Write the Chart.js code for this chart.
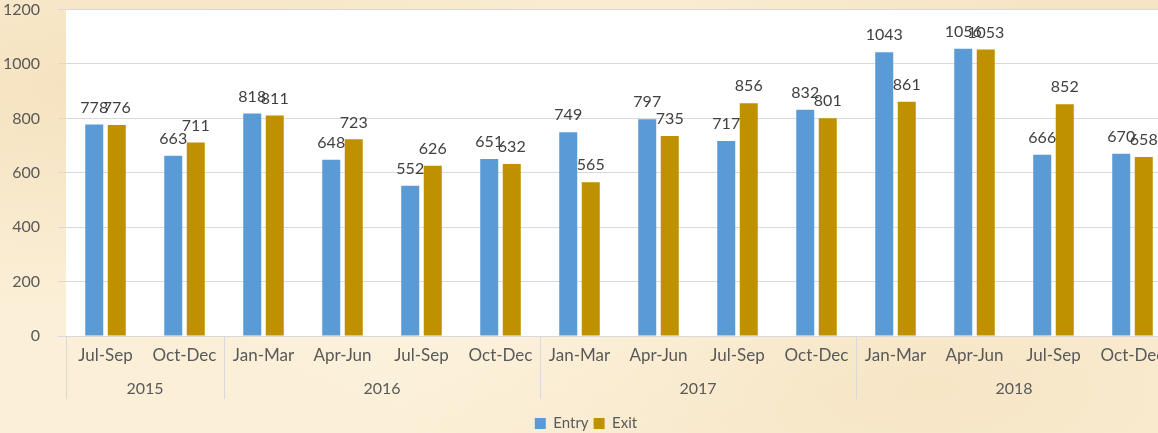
<!DOCTYPE html>
<html>
<head>
<meta charset="utf-8">
<script src="https://cdn.jsdelivr.net/npm/chart.js@4"></script>
<style>
  html, body { margin: 0; padding: 0; }
  body {
    width: 1158px; height: 433px; overflow: hidden;
    background-color: #fbefd7;
    background-image:
      radial-gradient(ellipse at 10% 20%, rgba(240,215,170,0.55), transparent 45%),
      radial-gradient(ellipse at 80% 90%, rgba(242,220,180,0.5), transparent 40%),
      radial-gradient(ellipse at 50% 60%, rgba(255,248,232,0.6), transparent 50%),
      radial-gradient(ellipse at 95% 10%, rgba(238,212,168,0.5), transparent 35%);
  }
  #wrap { position: relative; width: 1180px; height: 459px; margin-top: -18px; }
  canvas { display: block; }
</style>
</head>
<body>
<div id="wrap"><canvas id="myChart" width="1180" height="459"></canvas></div>
<script>
const quarters = ['Jul-Sep', 'Oct-Dec', 'Jan-Mar', 'Apr-Jun', 'Jul-Sep', 'Oct-Dec', 'Jan-Mar', 'Apr-Jun', 'Jul-Sep', 'Oct-Dec', 'Jan-Mar', 'Apr-Jun', 'Jul-Sep', 'Oct-Dec'];
const years = ['2015', '2016', '2017', '2018'];
const yearSizes = [2, 4, 4, 4]; // quarters per year
const entry = [778, 663, 818, 648, 552, 651, 749, 797, 717, 832, 1043, 1056, 666, 670];
const exit = [776, 711, 811, 723, 626, 632, 565, 735, 856, 801, 861, 1053, 852, 658];
const yTicks = [0, 200, 400, 600, 800, 1000, 1200];

const FONT = 'Lato, "Open Sans", sans-serif';

// white plot area
const plotBg = {
  id: 'plotBg',
  beforeDraw(chart) {
    const a = chart.chartArea, c = chart.ctx;
    c.save();
    c.fillStyle = '#ffffff';
    c.fillRect(a.left, a.top, a.right - a.left, a.bottom - a.top);
    c.restore();
  }
};

// value labels above bars
const valueLabels = {
  id: 'valueLabels',
  afterDatasetsDraw(chart) {
    const c = chart.ctx;
    c.save();
    c.font = '16px ' + FONT;
    c.fillStyle = '#404040';
    c.textAlign = 'center';
    c.textBaseline = 'bottom';
    chart.data.datasets.forEach((ds, i) => {
      chart.getDatasetMeta(i).data.forEach((bar, j) => {
        c.fillText(ds.data[j], bar.x, bar.y - 9);
      });
    });
    c.restore();
  }
};

// year row and group separators under the x axis
const yearRow = {
  id: 'yearRow',
  afterDraw(chart) {
    const x = chart.scales.x, c = chart.ctx;
    const top = chart.chartArea.bottom, bottom = top + 63;
    c.save();
    c.strokeStyle = '#d6d9de';
    c.lineWidth = 1;
    c.font = '16px ' + FONT;
    c.fillStyle = '#595959';
    c.textAlign = 'center';
    c.textBaseline = 'middle';
    let start = 0;
    const step = x.getPixelForValue(1) - x.getPixelForValue(0);
    const edge = (i) => {
      if (i <= 0) return x.getPixelForValue(0) - step / 2;
      if (i >= quarters.length) return x.getPixelForValue(i - 1) + step / 2;
      return (x.getPixelForValue(i - 1) + x.getPixelForValue(i)) / 2;
    };
    years.forEach((yr, k) => {
      const l = edge(start), r = edge(start + yearSizes[k]);
      c.beginPath();
      c.moveTo(Math.round(l) + 0.5, top);
      c.lineTo(Math.round(l) + 0.5, bottom);
      c.stroke();
      c.fillText(yr, (l + r) / 2, top + 53);
      start += yearSizes[k];
    });
    c.restore();
  }
};

new Chart(document.getElementById('myChart'), {
  type: 'bar',
  data: {
    labels: quarters,
    datasets: [
      { label: 'Entry', data: entry, backgroundColor: '#5b9bd5' },
      { label: 'Exit', data: exit, backgroundColor: '#bf9000' }
    ]
  },
  options: {
    responsive: false,
    animation: false,
    devicePixelRatio: 1,
    layout: { padding: { top: 0, right: 8, left: 0, bottom: 0 } },
    datasets: { bar: { categoryPercentage: 0.57, barPercentage: 0.8 } },
    scales: {
      x: {
        grid: { display: false },
        border: { color: '#d9d9d9' },
        ticks: { color: '#595959', font: { size: 17, family: FONT }, padding: 1, maxRotation: 0, autoSkip: false },
        afterFit(s) { s.height = 75; }
      },
      y: {
        min: 0, max: 1200,
        afterBuildTicks(s) { s.ticks = yTicks.map(v => ({ value: v })); },
        grid: { color: '#d9d9d9' },
        border: { display: false },
        ticks: { color: '#595959', font: { size: 16, family: FONT }, padding: 18, callback: v => String(v) },
        afterFit(s) { s.width = 66; }
      }
    },
    plugins: {
      legend: {
        position: 'bottom',
        labels: { boxWidth: 11, boxHeight: 11, color: '#595959', font: { size: 15, family: FONT }, padding: 5 }
      },
      tooltip: { enabled: false }
    }
  },
  plugins: [plotBg, valueLabels, yearRow]
});
</script>
</body>
</html>
